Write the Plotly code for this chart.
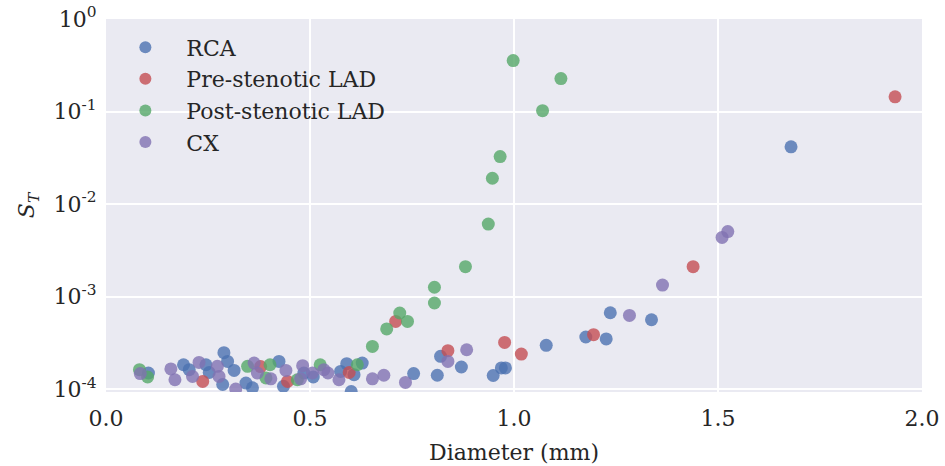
import plotly.graph_objects as go

# ---- data ----
rca_x = [0.104, 0.190, 0.204, 0.245, 0.253, 0.289, 0.298, 0.314, 0.286, 0.343, 0.359, 0.424, 0.435,
         0.485, 0.508, 0.575, 0.590, 0.608, 0.601, 0.628, 0.754, 0.812, 0.820, 0.871, 0.949, 0.969,
         0.979, 1.079, 1.176, 1.226, 1.236, 1.337, 1.679]
rca_y = [1.49e-4, 1.83e-4, 1.62e-4, 1.83e-4, 1.51e-4, 2.47e-4, 1.99e-4, 1.59e-4, 1.12e-4, 1.16e-4,
         1.03e-4, 1.99e-4, 1.07e-4, 1.49e-4, 1.35e-4, 1.55e-4, 1.88e-4, 1.43e-4, 9.4e-5, 1.91e-4,
         1.47e-4, 1.41e-4, 2.26e-4, 1.73e-4, 1.40e-4, 1.69e-4, 1.69e-4, 2.97e-4, 3.65e-4, 3.48e-4,
         6.68e-4, 5.61e-4, 0.0415]

pre_x = [0.237, 0.379, 0.445, 0.596, 0.710, 0.838, 0.977, 1.018, 1.195, 1.439, 1.934]
pre_y = [1.21e-4, 1.75e-4, 1.21e-4, 1.51e-4, 5.38e-4, 2.60e-4, 3.19e-4, 2.39e-4, 3.87e-4, 2.10e-3, 0.144]

post_x = [0.082, 0.102, 0.347, 0.392, 0.402, 0.469, 0.525, 0.616, 0.653, 0.688, 0.720, 0.739,
          0.805, 0.805, 0.881, 0.937, 0.947, 0.966, 0.998, 1.070, 1.115]
post_y = [1.62e-4, 1.35e-4, 1.76e-4, 1.32e-4, 1.83e-4, 1.26e-4, 1.83e-4, 1.83e-4, 2.89e-4, 4.46e-4,
          6.64e-4, 5.38e-4, 8.51e-4, 1.26e-3, 2.10e-3, 6.07e-3, 0.0190, 0.0326, 0.355, 0.102, 0.227]

cx_x = [0.084, 0.159, 0.169, 0.212, 0.228, 0.273, 0.277, 0.318, 0.363, 0.371, 0.404, 0.441, 0.477,
        0.482, 0.506, 0.534, 0.544, 0.571, 0.653, 0.681, 0.734, 0.838, 0.884, 1.283, 1.364, 1.510, 1.524]
cx_y = [1.47e-4, 1.65e-4, 1.26e-4, 1.37e-4, 1.94e-4, 1.76e-4, 1.37e-4, 1.00e-4, 1.91e-4, 1.49e-4,
        1.29e-4, 1.59e-4, 1.29e-4, 1.79e-4, 1.49e-4, 1.62e-4, 1.49e-4, 1.26e-4, 1.29e-4, 1.41e-4,
        1.18e-4, 1.99e-4, 2.66e-4, 6.25e-4, 1.33e-3, 4.35e-3, 5.04e-3]

series_names = ["RCA", "Pre-stenotic LAD", "Post-stenotic LAD", "CX"]
series_colors = ["#4C72B0", "#C44E52", "#55A868", "#8172B2"]

y_tickvals = [1e-4, 1e-3, 1e-2, 1e-1, 1e0]
y_ticktext = ["10<sup>-4</sup>", "10<sup>-3</sup>", "10<sup>-2</sup>", "10<sup>-1</sup>", "10<sup>0</sup>"]
x_tickvals = [0.0, 0.5, 1.0, 1.5, 2.0]
x_ticktext = ["0.0", "0.5", "1.0", "1.5", "2.0"]

FONT = "DejaVu Serif"
TXT = "#262626"
FS = 22

fig = go.Figure()
for xs, ys, name, col in zip([rca_x, pre_x, post_x, cx_x], [rca_y, pre_y, post_y, cx_y],
                             series_names, series_colors):
    fig.add_trace(go.Scatter(x=xs, y=ys, mode="markers", name=name,
                             marker=dict(size=13, color=col, opacity=0.8, line=dict(width=0))))

fig.update_layout(
    width=945, height=466,
    margin=dict(l=106, r=23, t=19, b=74, autoexpand=False),
    paper_bgcolor="white", plot_bgcolor="#EAEAF2",
    font=dict(family=FONT, size=FS, color=TXT),
    showlegend=True,
    legend=dict(x=-0.002, y=0.98, xanchor="left", yanchor="top", bgcolor="rgba(0,0,0,0)",
                font=dict(family=FONT, size=FS, color=TXT), tracegroupgap=0,
                itemsizing="constant", itemwidth=72),
)
fig.update_xaxes(range=[0, 2], tickvals=x_tickvals, ticktext=x_ticktext, automargin=False,
                 showgrid=True, gridcolor="white", gridwidth=1.6, zeroline=False,
                 showline=False, ticks="outside", ticklen=7, tickcolor="rgba(0,0,0,0)",
                 tickfont=dict(size=FS, color=TXT),
                 title=dict(text="Diameter (mm)", font=dict(size=FS, color=TXT), standoff=14))
fig.update_yaxes(type="log", range=[-4.032, 0], tickvals=y_tickvals, ticktext=y_ticktext,
                 automargin=False,
                 showgrid=True, gridcolor="white", gridwidth=1.6, zeroline=False,
                 showline=False, ticks="outside", ticklen=4, tickcolor="rgba(0,0,0,0)",
                 tickfont=dict(size=FS, color=TXT),
                 title=dict(text="<i>S<sub>T</sub></i>", font=dict(size=FS, color=TXT), standoff=12))

fig.write_html("out.html")
